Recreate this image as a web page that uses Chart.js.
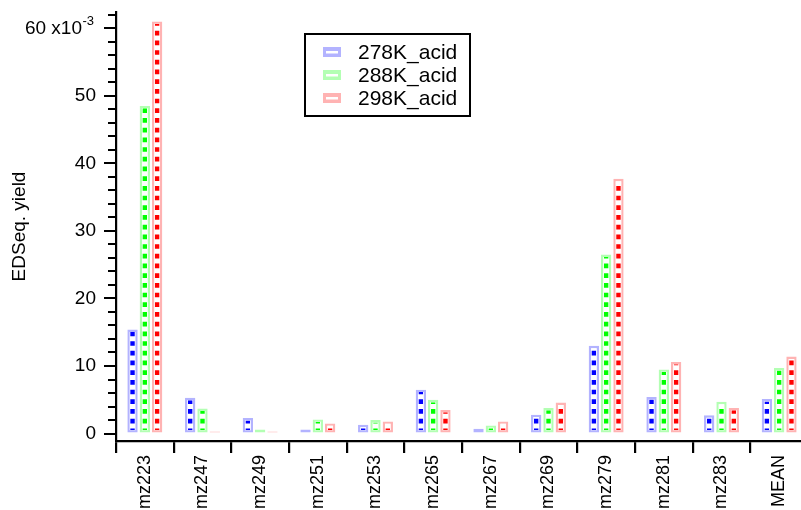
<!DOCTYPE html>
<html>
<head>
<meta charset="utf-8">
<script src="https://cdn.jsdelivr.net/npm/chart.js@4.4.1/dist/chart.umd.min.js"></script>
<style>
  html, body { margin: 0; background: #fff; overflow: hidden; }
  #wrap { width: 801px; height: 510px; overflow: hidden; }
</style>
</head>
<body>
<div id="wrap"><canvas id="c" width="808" height="510"></canvas></div>
<script>
// data (units of 1e-3)
const categories = ['mz223', 'mz247', 'mz249', 'mz251', 'mz253', 'mz265', 'mz267', 'mz269', 'mz279', 'mz281', 'mz283', 'MEAN'];
const acid278 = [15.4, 5.3, 2.3, 0.6, 1.3, 6.5, 0.7, 2.8, 13.0, 5.4, 2.7, 5.1];
const acid288 = [48.5, 3.7, 0.6, 2.1, 2.0, 5.0, 1.2, 3.8, 26.5, 9.5, 4.7, 9.7];
const acid298 = [61.0, 0.3, 0.3, 1.5, 1.8, 3.5, 1.8, 4.6, 37.7, 10.6, 3.8, 11.4];
const seriesNames = ['278K_acid', '288K_acid', '298K_acid'];
const yTickLabels = { 0: '0', 10: '10', 20: '20', 30: '30', 40: '40', 50: '50' };

const FONT = 'Liberation Sans, Arial, sans-serif';
const lightColors = ['#b3b3ff', '#b3ffb3', '#ffb3b3'];
const darkColors = ['#0000ff', '#00ff00', '#ff0000'];

/**
 * 柱内虚线 + 图例 + 顶部刻度的 x10^-3
 */
const decorPlugin = {
  id: 'decor',
  afterDatasetsDraw(chart) {
    const { ctx } = chart;
    chart.data.datasets.forEach((ds, i) => {
      const meta = chart.getDatasetMeta(i);
      meta.data.forEach(bar => {
        const bw = ds.borderWidth;
        const top = Math.min(bar.y, bar.base) + bw;
        const bottom = Math.max(bar.y, bar.base) - bw;
        if (bottom - top <= 0) return;
        ctx.save();
        ctx.beginPath();
        ctx.rect(bar.x - bar.width / 2 + bw, top, bar.width - 2 * bw, bottom - top);
        ctx.clip();
        ctx.strokeStyle = darkColors[i];
        ctx.lineWidth = 4.4;
        ctx.setLineDash([4.7, 5]);
        ctx.lineDashOffset = 3;
        ctx.beginPath();
        ctx.moveTo(bar.x, bottom);
        ctx.lineTo(bar.x, top);
        ctx.stroke();
        ctx.restore();
      });
    });
  },
  afterDraw(chart) {
    const { ctx } = chart;
    // 图例
    ctx.save();
    ctx.strokeStyle = '#000';
    ctx.lineWidth = 2;
    ctx.strokeRect(305, 34, 165, 82);
    seriesNames.forEach((name, i) => {
      const cy = 52 + i * 23;
      ctx.fillStyle = lightColors[i];
      ctx.fillRect(323, cy - 5, 18, 10);
      ctx.fillStyle = '#fff';
      ctx.fillRect(326, cy - 1, 12, 2.5);
      ctx.fillStyle = '#000';
      ctx.font = `21px ${FONT}`;
      ctx.textAlign = 'left';
      ctx.textBaseline = 'middle';
      ctx.fillText(name, 358, cy + 1);
    });
    // 60 x10^-3
    const y60 = chart.scales.y.getPixelForValue(60);
    ctx.font = `19px ${FONT}`;
    ctx.textAlign = 'right';
    ctx.textBaseline = 'middle';
    ctx.fillText('60 x10', 82, y60 + 1);
    ctx.font = `13px ${FONT}`;
    ctx.textAlign = 'left';
    ctx.fillText('-3', 82.5, y60 - 7);
    ctx.restore();
  },
};

const values = [acid278, acid288, acid298];

new Chart(document.getElementById('c'), {
  type: 'bar',
  data: {
    labels: categories,
    datasets: values.map((data, i) => ({
      label: seriesNames[i],
      data,
      backgroundColor: '#ffffff',
      borderColor: lightColors[i],
      borderWidth: 2.4,
      borderSkipped: false,
      categoryPercentage: 0.64,
      barPercentage: 0.84,
    })),
  },
  options: {
    responsive: false,
    animation: false,
    devicePixelRatio: 1,
    layout: { padding: { top: 12, right: 0, left: 0, bottom: 0 } },
    plugins: {
      legend: { display: false },
      tooltip: { enabled: false },
    },
    scales: {
      x: {
        type: 'category',
        offset: true,
        afterFit: (s) => { s.height = 69; },
        grid: {
          offset: true,
          drawOnChartArea: false,
          tickLength: 12,
          tickColor: '#000',
          lineWidth: 2.2,
        },
        border: { color: '#000', width: 2.2 },
        ticks: {
          color: '#000',
          font: { family: FONT, size: 18 },
          minRotation: 90,
          maxRotation: 90,
          autoSkip: false,
          padding: 2,
        },
      },
      y: {
        type: 'linear',
        position: 'left',
        min: -1.1,
        max: 62.4,
        afterFit: (s) => {
          s.width = 116;
          s.paddingTop = 0;
          s.paddingBottom = 0;
        },
        grid: {
          drawOnChartArea: false,
          tickLength: 12,
          tickColor: '#000',
          lineWidth: 2,
          // 次刻度画短一些
          tickBorderDash: (c) => (c.tick && c.tick.value % 10 === 0 ? [] : [0, 4, 8]),
        },
        border: { color: '#000', width: 2.2 },
        ticks: {
          stepSize: 2,
          includeBounds: false,
          autoSkip: false,
          color: '#000',
          font: { family: FONT, size: 19 },
          padding: 8,
          callback: (v) => yTickLabels[v] || '',
        },
        title: {
          display: true,
          text: 'EDSeq. yield',
          color: '#000',
          font: { family: FONT, size: 19 },
          padding: { top: 8, bottom: 0 },
        },
      },
    },
  },
  plugins: [decorPlugin],
});
</script>
</body>
</html>
